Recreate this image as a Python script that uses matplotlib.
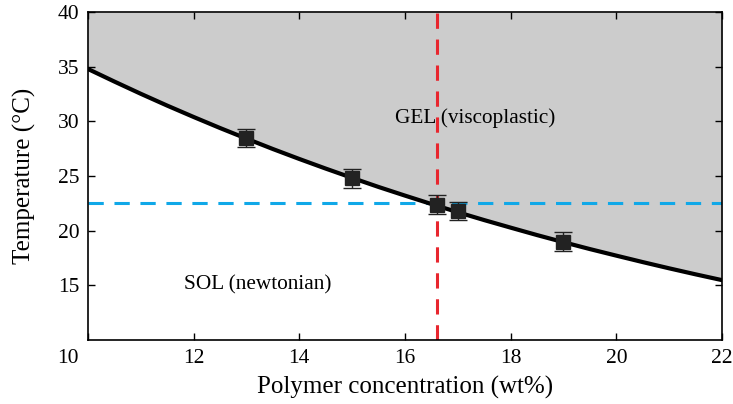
import matplotlib
matplotlib.use('Agg')
import matplotlib.pyplot as plt
import matplotlib.transforms as mtransforms
import numpy as np

# phase boundary
curve_x = [10, 10.5, 11, 11.5, 12, 12.5, 13, 13.5, 14, 14.5, 15, 15.5, 16,
           16.5, 17, 17.5, 18, 18.5, 19, 19.5, 20, 20.5, 21, 21.5, 22]
curve_t = [34.8, 33.65, 32.53, 31.45, 30.41, 29.4, 28.43, 27.48, 26.57, 25.69,
           24.84, 24.01, 23.22, 22.45, 21.7, 20.98, 20.29, 19.61, 18.96, 18.33,
           17.73, 17.14, 16.57, 16.02, 15.49]

# measured gel points
conc = [13, 15, 16.6, 17, 19]
temp = [28.5, 24.8, 22.4, 21.8, 19.0]
temp_err = [0.85, 0.85, 0.85, 0.85, 0.85]

t_ref = 22.5
c_ref = 16.6

plt.rcParams['font.family'] = ['Liberation Serif', 'DejaVu Serif']

fig = plt.figure(figsize=(7.33, 4.04), dpi=100)
ax = fig.add_axes([0.120, 0.158, 0.865, 0.812])

ax.fill_between(curve_x, curve_t, 40, color='#cccccc', lw=0, zorder=1)
ax.plot(curve_x, curve_t, color='black', lw=3, zorder=3)
ax.axhline(t_ref, color='#10a8e8', lw=2.2, dashes=(5, 3.5), zorder=2)
ax.axvline(c_ref, color='#e8262e', lw=2.2, dashes=(5, 3.5), zorder=2)
ax.errorbar(conc, temp, yerr=temp_err, fmt='s', color='#222222', ms=9.5,
            ecolor='#222222', elinewidth=1, capsize=6.5, capthick=1, zorder=4)

ax.text(17.33, 30.3, 'GEL (viscoplastic)', ha='center', va='center', fontsize=15.3)
ax.text(13.22, 15.1, 'SOL (newtonian)', ha='center', va='center', fontsize=15.3)

ax.set_xlim(10, 22)
ax.set_ylim(10, 40)
ax.set_xticks(np.arange(10, 23, 2))
ax.set_yticks(np.arange(15, 41, 5))
ax.tick_params(direction='in', top=True, right=True, labelsize=15.5, length=5, width=1)
ax.tick_params(axis='y', pad=6)
ax.tick_params(axis='x', pad=6)
# the "10" sits at the corner, pulled to the left
shift = mtransforms.ScaledTranslation(-14.4 / 72, 0, fig.dpi_scale_trans)
lbl = ax.get_xticklabels()[0]
lbl.set_transform(lbl.get_transform() + shift)

ax.set_xlabel('Polymer concentration (wt%)', fontsize=18, labelpad=6)
ax.set_ylabel('Temperature (°C)', fontsize=18, labelpad=16)
for s in ax.spines.values():
    s.set_linewidth(1.2)

fig.savefig('out.png', dpi=100)
